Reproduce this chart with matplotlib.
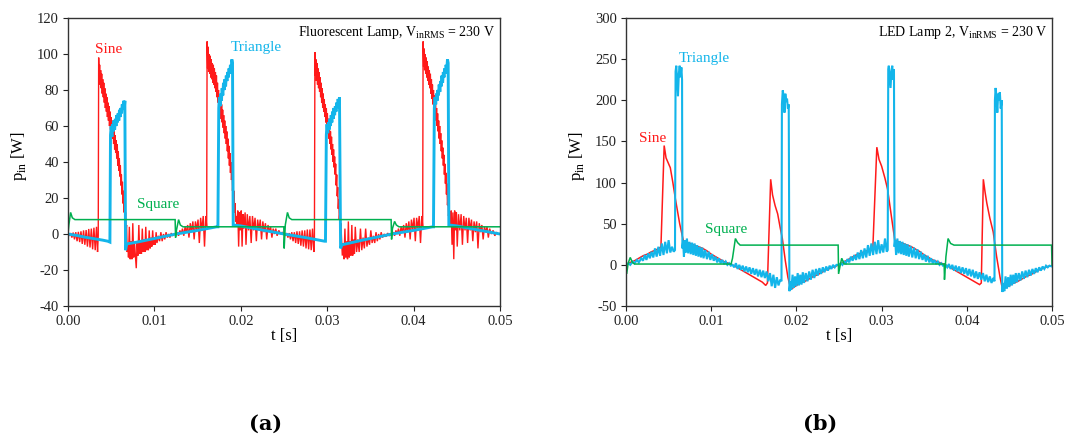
import numpy as np
import matplotlib
matplotlib.use("Agg")
import matplotlib.pyplot as plt

# ---------------- data (t in ms, p in W) ----------------
# Panel (a): Fluorescent lamp
sine_a = [
    (0, 0), (0.15, -1), (0.3, 0.5), (0.45, -2), (0.6, 0.8), (0.75, -3), (0.9, 1), (1.05, -4), (1.2, 1.2),
    (1.35, -4.5), (1.5, 1.5), (1.65, -5.5), (1.8, 2), (1.95, -6), (2.1, 2.2), (2.25, -7), (2.4, 2.8),
    (2.55, -7.5), (2.7, 3), (2.85, -8.5), (3.0, 3.5), (3.15, -9), (3.3, 4), (3.42, -10), (3.5, -1),
    (3.55, 98), (3.6, 86), (3.66, 94), (3.72, 83), (3.78, 91), (3.84, 81), (3.9, 89), (3.96, 78),
    (4.02, 86), (4.08, 76), (4.14, 84), (4.2, 73), (4.26, 81), (4.32, 70), (4.38, 78), (4.44, 68),
    (4.5, 76), (4.56, 65), (4.62, 73), (4.68, 63), (4.74, 71), (4.8, 60), (4.86, 68), (4.92, 58),
    (4.98, 65), (5.04, 55), (5.1, 63), (5.16, 53), (5.22, 60), (5.28, 50), (5.34, 58), (5.4, 47),
    (5.46, 55), (5.52, 45), (5.58, 52), (5.64, 42), (5.7, 50), (5.76, 38), (5.82, 46), (5.88, 35),
    (5.94, 42), (6.0, 32), (6.06, 38), (6.12, 27), (6.18, 33), (6.24, 22), (6.3, 29), (6.36, 17),
    (6.42, 24), (6.48, 12), (6.54, 18), (6.6, 7), (6.66, 12), (6.72, 2), (6.78, 5), (6.85, -10),
    (6.95, -6), (7.0, -13), (7.1, 4), (7.2, -14), (7.3, -4), (7.4, -14), (7.5, 6), (7.6, -13), (7.7, -5),
    (7.8, -12), (7.9, -19), (8.0, -4), (8.1, -12), (8.2, 5), (8.3, -11), (8.4, -4), (8.5, -11), (8.6, 3),
    (8.7, -10), (8.8, -3), (8.9, -10), (9.0, 4), (9.1, -9), (9.2, -3), (9.3, -9), (9.4, 2), (9.5, -8),
    (9.6, -2), (9.7, -7), (9.8, 2), (9.9, -6), (10.0, -2), (10.1, -6), (10.2, 1), (10.3, -5), (10.45, -1),
    (10.6, -4), (10.75, 1), (10.9, -4), (11.05, 0), (11.2, -3), (11.35, 1), (11.5, -2), (11.65, 0),
    (11.8, -2), (11.95, 0.5), (12.1, -1), (12.3, 0), (12.5, 0),
    (12.65, 1), (12.8, -1), (12.95, 2), (13.1, 0), (13.25, 3), (13.4, -1), (13.55, 4), (13.7, 1),
    (13.85, 5), (14.0, -2), (14.15, 6), (14.3, 1), (14.45, 7), (14.6, -3), (14.75, 7), (14.9, 2),
    (15.05, 8), (15.2, -5), (15.35, 9), (15.5, 2), (15.65, 10), (15.8, -7), (15.95, 10), (16.05, 4),
    (16.1, 107), (16.16, 92), (16.22, 104), (16.28, 90), (16.34, 100), (16.4, 89), (16.46, 99),
    (16.52, 87), (16.58, 97), (16.64, 86), (16.7, 95), (16.76, 84), (16.82, 94), (16.88, 83),
    (16.94, 92), (17.0, 81), (17.06, 90), (17.12, 79), (17.18, 88), (17.24, 76), (17.3, 84), (17.36, 73),
    (17.42, 80), (17.48, 70), (17.54, 77), (17.6, 67), (17.66, 75), (17.72, 64), (17.78, 72),
    (17.84, 62), (17.9, 69), (17.96, 59), (18.02, 66), (18.08, 56), (18.14, 63), (18.2, 53), (18.26, 60),
    (18.32, 50), (18.38, 57), (18.44, 46), (18.5, 53), (18.56, 42), (18.62, 49), (18.68, 38),
    (18.74, 45), (18.8, 34), (18.86, 40), (18.92, 30), (18.98, 36), (19.04, 24), (19.1, 30), (19.16, 18),
    (19.22, 24), (19.28, 12), (19.34, 17), (19.4, 7), (19.46, 10), (19.55, 4),
    (19.65, 13), (19.75, -7), (19.85, 12), (19.95, 2), (20.05, 13), (20.15, -7), (20.25, 11), (20.35, 3),
    (20.5, 12), (20.6, -6), (20.75, 11), (20.9, 2), (21.05, 10), (21.2, -5), (21.35, 10), (21.5, 2),
    (21.65, 9), (21.8, -4), (21.95, 8), (22.1, 2), (22.25, 8), (22.4, -3), (22.55, 7), (22.7, 1),
    (22.85, 6), (23.0, -3), (23.15, 5), (23.3, 1), (23.45, 4), (23.6, -2), (23.75, 3), (23.9, 0),
    (24.05, 3), (24.2, -1), (24.4, 2), (24.6, 0), (24.8, 1), (25.0, 0),
    (25.15, -1), (25.3, 0.5), (25.45, -2), (25.6, 0.5), (25.75, -3), (25.9, 1), (26.05, -4), (26.2, 1),
    (26.35, -5), (26.5, 1.5), (26.65, -5.5), (26.8, 1.5), (26.95, -6.5), (27.1, 2), (27.25, -7), (27.4, 2),
    (27.55, -8), (27.7, 2.5), (27.85, -8.5), (28.0, 2.5), (28.15, -9), (28.3, 3), (28.45, -10), (28.52, -3),
    (28.58, 101), (28.64, 88), (28.7, 97), (28.76, 85), (28.82, 95), (28.88, 83), (28.94, 92), (29.0, 81),
    (29.06, 90), (29.12, 79), (29.18, 87), (29.24, 76), (29.3, 84), (29.36, 73), (29.42, 81), (29.48, 70),
    (29.54, 78), (29.6, 68), (29.66, 75), (29.72, 65), (29.78, 72), (29.84, 62), (29.9, 70), (29.96, 60),
    (30.02, 67), (30.08, 57), (30.14, 64), (30.2, 53), (30.26, 60), (30.32, 50), (30.38, 57), (30.44, 47),
    (30.5, 54), (30.56, 44), (30.62, 50), (30.68, 40), (30.74, 47), (30.8, 37), (30.86, 43), (30.92, 33),
    (30.98, 39), (31.04, 27), (31.1, 33), (31.16, 21), (31.22, 26), (31.28, 14), (31.34, 19), (31.4, 8),
    (31.46, 12), (31.52, 3), (31.58, 6), (31.65, -2), (31.75, -12),
    (31.85, -5), (31.95, -14), (32.05, 3), (32.15, -13), (32.25, -4), (32.35, -14), (32.45, 7), (32.55, -13),
    (32.65, -4), (32.75, -12), (32.85, 5), (32.95, -12), (33.05, -3), (33.15, -11), (33.25, 4), (33.4, -10),
    (33.55, -3), (33.7, -10), (33.85, 3), (34.0, -9), (34.15, -2), (34.3, -8), (34.45, 3), (34.6, -7),
    (34.75, -2), (34.9, -6), (35.05, 2), (35.2, -5), (35.35, -1), (35.5, -5), (35.65, 1), (35.8, -4),
    (35.95, 0), (36.1, -3), (36.25, 1), (36.4, -2), (36.6, 0), (36.8, -1.5), (37.0, 0.5), (37.2, -1),
    (37.5, 0),
    (37.65, 1), (37.8, -1), (37.95, 2), (38.1, 0), (38.25, 3), (38.4, -1), (38.55, 4), (38.7, 1),
    (38.85, 5), (39.0, -2), (39.15, 6), (39.3, 1), (39.45, 7), (39.6, -3), (39.75, 8), (39.9, 2),
    (40.05, 9), (40.2, -4), (40.35, 9), (40.5, 3), (40.65, 10), (40.8, -5), (40.95, 10), (41.05, 4),
    (41.1, 107), (41.16, 93), (41.22, 103), (41.28, 91), (41.34, 100), (41.4, 89), (41.46, 98), (41.52, 87),
    (41.58, 96), (41.64, 85), (41.7, 93), (41.76, 83), (41.82, 91), (41.88, 81), (41.94, 89), (42.0, 78),
    (42.06, 86), (42.12, 75), (42.18, 83), (42.24, 72), (42.3, 80), (42.36, 69), (42.42, 77), (42.48, 66),
    (42.54, 74), (42.6, 63), (42.66, 70), (42.72, 60), (42.78, 67), (42.84, 57), (42.9, 63), (42.96, 53),
    (43.02, 60), (43.08, 50), (43.14, 56), (43.2, 46), (43.26, 52), (43.32, 42), (43.38, 48), (43.44, 38),
    (43.5, 44), (43.56, 33), (43.62, 39), (43.68, 28), (43.74, 34), (43.8, 22), (43.86, 28), (43.92, 16),
    (43.98, 21), (44.04, 10), (44.1, 14), (44.17, 5), (44.25, 6),
    (44.35, 13), (44.45, -6), (44.55, 12), (44.65, -14), (44.75, 13), (44.85, 2), (44.95, 12), (45.05, -7),
    (45.2, 11), (45.35, 2), (45.5, 11), (45.65, -6), (45.8, 10), (45.95, 2), (46.1, 9), (46.25, -5),
    (46.4, 9), (46.55, 2), (46.7, 8), (46.85, -4), (47.0, 7), (47.15, 1), (47.3, 7), (47.45, -8),
    (47.6, 6), (47.75, 1), (47.9, 5), (48.05, -3), (48.2, 4), (48.35, 1), (48.5, 4), (48.65, -2),
    (48.8, 3), (49.0, 0), (49.2, 2), (49.4, -1), (49.6, 1), (49.8, 0), (50.0, 0),
]

triangle_a = [
    (0, 0), (1, -0.8), (2, -1.8), (3, -2.6), (4, -3.4), (4.6, -4), (4.85, -4.5),
    (4.92, 55), (5.0, 60), (5.08, 54), (5.16, 61), (5.24, 57), (5.32, 63), (5.4, 58), (5.48, 64),
    (5.56, 60), (5.64, 66), (5.72, 62), (5.8, 67), (5.88, 63), (5.96, 69), (6.04, 65), (6.12, 70),
    (6.2, 67), (6.28, 72), (6.36, 69), (6.44, 74), (6.52, 70), (6.58, 74),
    (6.66, -9), (6.8, -5.5), (8, -4.5), (10, -2.5), (12.5, 0), (15, 2), (17.2, 4), (17.35, 4),
    (17.45, 70), (17.52, 76), (17.6, 71), (17.68, 78), (17.76, 74), (17.84, 81), (17.92, 77), (18.0, 84),
    (18.08, 80), (18.16, 86), (18.24, 82), (18.32, 88), (18.4, 85), (18.48, 90), (18.56, 87), (18.64, 92),
    (18.72, 89), (18.8, 94), (18.88, 91), (18.96, 97), (19.04, 95),
    (19.12, 5), (20, 4.5), (22.5, 2.2), (25, 0), (27.5, -2), (29.7, -4), (29.8, -4),
    (29.9, 55), (29.98, 61), (30.06, 56), (30.14, 62), (30.22, 58), (30.3, 64), (30.38, 60), (30.46, 66),
    (30.54, 62), (30.62, 68), (30.7, 64), (30.78, 70), (30.86, 66), (30.94, 71), (31.02, 68), (31.1, 73),
    (31.18, 70), (31.26, 75), (31.34, 72), (31.42, 76),
    (31.55, -8), (31.7, -6), (34, -3.5), (37.5, 0), (40, 2), (42.2, 4), (42.3, 4),
    (42.4, 70), (42.48, 76), (42.56, 72), (42.64, 78), (42.72, 74), (42.8, 80), (42.88, 77), (42.96, 83),
    (43.04, 79), (43.12, 85), (43.2, 82), (43.28, 88), (43.36, 84), (43.44, 90), (43.52, 87), (43.6, 92),
    (43.68, 89), (43.76, 94), (43.84, 91), (43.92, 97), (44.0, 95),
    (44.08, 5), (45, 4.5), (47.5, 2.2), (50, 0),
]

square_a = [
    (0, 0), (0.1, 5), (0.3, 12), (0.5, 9), (0.8, 8), (12.4, 8), (12.45, -2), (12.55, 2), (12.8, 8),
    (13.0, 5), (13.3, 4), (24.98, 4), (25.02, -8), (25.15, 5), (25.4, 12), (25.6, 9), (25.9, 8),
    (37.4, 8), (37.45, -3), (37.55, 3), (37.8, 7), (38.0, 5), (38.3, 4), (50, 4),
]

# Panel (b): LED lamp 2
sine_b = [
    (0, 0), (0.5, 3), (1.0, 5), (1.5, 8), (2.0, 11), (2.5, 13), (3.0, 16), (3.5, 18), (4.0, 21), (4.1, 22),
    (4.48, 145), (4.7, 130), (5.2, 118), (5.5, 100), (5.8, 80), (6.3, 50), (6.76, 28), (7.5, 26),
    (8.0, 24), (8.5, 22), (9.0, 20), (9.5, 17), (10.0, 13), (10.5, 10), (11.0, 7), (11.5, 4), (12.0, 2),
    (12.5, 0), (13.0, -3), (13.5, -6), (14.0, -9), (14.5, -12), (15.0, -15), (15.5, -18), (16.0, -21),
    (16.4, -25), (16.6, -22), (16.98, 104), (17.2, 85), (17.5, 72), (17.8, 62), (18.1, 45), (18.35, 32),
    (18.7, 5), (19.0, -15), (19.35, -30), (19.6, -28), (20.0, -25), (20.5, -22), (21.0, -20), (21.5, -17),
    (22.0, -14), (22.5, -12), (23.0, -9), (23.5, -6), (24.0, -4), (24.5, -2), (25.0, 0), (25.5, 3),
    (26.0, 6), (26.5, 9), (27.0, 12), (27.5, 14), (28.0, 16), (28.5, 18), (28.97, 20),
    (29.44, 143), (29.7, 128), (30.0, 120), (30.4, 105), (30.7, 92), (31.0, 70), (31.3, 48), (31.55, 30),
    (32.0, 28), (32.5, 26), (33.0, 24), (33.5, 22), (34.0, 19), (34.5, 16), (35.0, 12), (35.5, 9),
    (36.0, 6), (36.5, 4), (37.0, 2), (37.5, 0), (38.0, -3), (38.5, -6), (39.0, -9), (39.5, -12),
    (40.0, -15), (40.5, -18), (41.0, -21), (41.5, -24), (41.7, -22), (41.94, 104), (42.15, 88),
    (42.35, 75), (42.7, 57), (43.1, 40), (43.5, 10), (43.9, -15), (44.2, -30), (44.5, -28), (45.0, -25),
    (45.5, -22), (46.0, -20), (46.5, -17), (47.0, -14), (47.5, -12), (48.0, -9), (48.5, -6), (49.0, -4),
    (49.5, -2), (50.0, -1),
]

triangle_b = [
    (0, 0), (0.3, 2), (0.5, 0), (0.8, 4), (1.0, 2), (1.3, 6), (1.5, 3), (1.8, 8), (2.0, 5), (2.2, 12),
    (2.4, 6), (2.6, 14), (2.8, 8), (3.0, 16), (3.2, 9), (3.4, 20), (3.6, 10), (3.8, 22), (4.0, 11),
    (4.2, 26), (4.4, 12), (4.6, 28), (4.8, 14), (5.0, 30), (5.2, 15), (5.4, 22), (5.6, 16), (5.75, 18),
    (5.82, 235), (5.9, 242), (6.0, 225), (6.1, 205), (6.2, 232), (6.3, 242), (6.4, 228), (6.5, 240),
    (6.58, 225), (6.62, 20),
    (6.7, 28), (6.8, 10), (6.9, 30), (7.0, 15), (7.15, 32), (7.3, 14), (7.45, 28), (7.6, 13), (7.75, 27),
    (7.9, 12), (8.05, 26), (8.2, 11), (8.35, 24), (8.5, 10), (8.65, 22), (8.8, 9), (8.95, 21), (9.1, 8),
    (9.3, 18), (9.5, 7), (9.7, 16), (9.9, 6), (10.1, 13), (10.3, 5), (10.5, 10), (10.7, 3), (10.9, 8),
    (11.1, 2), (11.3, 6), (11.5, 1), (11.7, 4), (11.9, 0), (12.1, 2), (12.3, -1), (12.5, 0),
    (12.7, -3), (12.9, 2), (13.1, -5), (13.3, 0), (13.5, -6), (13.7, -1), (13.9, -8), (14.1, -2),
    (14.3, -9), (14.5, -3), (14.7, -11), (14.9, -4), (15.1, -12), (15.3, -5), (15.5, -14), (15.7, -6),
    (15.9, -15), (16.1, -7), (16.3, -16), (16.5, -8), (16.7, -20), (16.9, -10), (17.1, -26), (17.3, -12),
    (17.5, -28), (17.7, -15), (17.9, -25), (18.1, -18), (18.25, -20),
    (18.3, 195), (18.4, 212), (18.5, 205), (18.6, 185), (18.7, 208), (18.8, 198), (18.9, 202),
    (19.0, 190), (19.1, 195), (19.18, -32),
    (19.3, -20), (19.4, -30), (19.55, -12), (19.7, -28), (19.85, -14), (20.0, -26), (20.15, -10),
    (20.3, -25), (20.45, -12), (20.6, -24), (20.75, -9), (20.9, -22), (21.1, -10), (21.3, -20),
    (21.5, -8), (21.7, -18), (21.9, -6), (22.1, -16), (22.3, -5), (22.5, -13), (22.7, -4), (22.9, -11),
    (23.1, -3), (23.3, -9), (23.5, -2), (23.7, -7), (23.9, -1), (24.1, -5), (24.3, 0), (24.5, -3),
    (24.7, 0), (25.0, 0),
    (25.2, 2), (25.4, 0), (25.6, 4), (25.8, 2), (26.0, 7), (26.2, 3), (26.4, 10), (26.6, 5), (26.8, 12),
    (27.0, 6), (27.2, 15), (27.4, 7), (27.6, 18), (27.8, 8), (28.0, 20), (28.2, 9), (28.4, 24),
    (28.6, 11), (28.8, 26), (29.0, 12), (29.2, 28), (29.4, 13), (29.6, 30), (29.8, 14), (30.0, 25),
    (30.2, 15), (30.4, 32), (30.6, 16), (30.72, 18),
    (30.78, 238), (30.85, 242), (30.95, 228), (31.05, 215), (31.15, 235), (31.25, 242), (31.35, 225),
    (31.45, 238), (31.52, 22),
    (31.6, 30), (31.7, 12), (31.85, 32), (32.0, 14), (32.15, 29), (32.3, 13), (32.45, 28), (32.6, 12),
    (32.75, 26), (32.9, 11), (33.05, 25), (33.2, 10), (33.4, 23), (33.6, 9), (33.8, 21), (34.0, 8),
    (34.2, 19), (34.4, 7), (34.6, 16), (34.8, 6), (35.0, 13), (35.2, 4), (35.4, 11), (35.6, 3),
    (35.8, 8), (36.0, 2), (36.2, 6), (36.4, 1), (36.6, 4), (36.8, 0), (37.0, 2), (37.2, -1), (37.5, 0),
    (37.7, -3), (37.9, 1), (38.1, -5), (38.3, 0), (38.5, -7), (38.7, -1), (38.9, -8), (39.1, -2),
    (39.3, -10), (39.5, -3), (39.7, -11), (39.9, -4), (40.1, -13), (40.3, -5), (40.5, -14), (40.7, -6),
    (40.9, -16), (41.1, -8), (41.3, -17), (41.5, -9), (41.7, -18), (41.9, -10), (42.1, -20), (42.3, -12),
    (42.5, -21), (42.7, -14), (42.9, -22), (43.1, -16), (43.25, -20),
    (43.3, 200), (43.38, 215), (43.48, 205), (43.58, 185), (43.68, 208), (43.78, 200), (43.88, 210),
    (43.98, 190), (44.1, 200), (44.16, -33),
    (44.3, -22), (44.4, -32), (44.55, -14), (44.7, -29), (44.85, -15), (45.0, -27), (45.15, -12),
    (45.3, -25), (45.45, -12), (45.6, -23), (45.75, -10), (45.9, -21), (46.1, -10), (46.3, -19),
    (46.5, -8), (46.7, -17), (46.9, -7), (47.1, -15), (47.3, -6), (47.5, -13), (47.7, -5), (47.9, -11),
    (48.1, -4), (48.3, -9), (48.5, -3), (48.7, -7), (48.9, -2), (49.1, -5), (49.3, -1), (49.5, -3),
    (49.7, -1), (50.0, -2),
]

square_b = [
    (0, 0), (0.08, -11), (0.25, 2), (0.5, 9), (0.75, 3), (1.0, 1), (12.33, 1), (12.5, 8), (12.84, 32),
    (13.1, 27), (13.4, 24), (13.66, 24), (24.9, 24), (24.95, -11), (25.15, 0), (25.32, 8), (25.6, 1),
    (37.34, 1), (37.38, -18), (37.55, 10), (37.8, 32), (38.1, 26), (38.5, 24), (49.95, 24), (50.0, 0),
]

yticks_a = [-40, -20, 0, 20, 40, 60, 80, 100, 120]
yticks_b = [-50, 0, 50, 100, 150, 200, 250, 300]
xticks = [0.00, 0.01, 0.02, 0.03, 0.04, 0.05]

# ---------------- style ----------------
plt.rcParams['font.family'] = ['Liberation Serif', 'DejaVu Serif']
plt.rcParams['mathtext.fontset'] = 'custom'
plt.rcParams['mathtext.rm'] = 'Liberation Serif'
plt.rcParams['axes.unicode_minus'] = False

RED = '#ff1a1a'
BLUE = '#13b5ea'
GREEN = '#00b050'
W, H = 1068, 440

fig = plt.figure(figsize=(W / 100, H / 100), dpi=100)


def make_axes(x0, x1, y0, y1):
    return fig.add_axes([x0 / W, 1 - y1 / H, (x1 - x0) / W, (y1 - y0) / H])


def draw(ax, sine, tri, sq, yticks, ylim, lw_sine, lw_tri):
    for data, color, lw in ((sine, RED, lw_sine), (tri, BLUE, lw_tri), (sq, GREEN, 1.1)):
        arr = np.array(data, dtype=float)
        ax.plot(arr[:, 0] / 1000.0, arr[:, 1], color=color, lw=lw, solid_joinstyle='miter')
    ax.set_xlim(0, 0.05)
    ax.set_ylim(*ylim)
    ax.set_xticks(xticks)
    ax.set_xticklabels([f"{v:.2f}" for v in xticks])
    ax.set_yticks(yticks)
    ax.tick_params(direction='out', length=3.5, width=0.8, labelsize=10.5, colors='#222222', pad=3)
    for s in ax.spines.values():
        s.set_linewidth(1.0)
        s.set_color('#333333')


axa = make_axes(68, 500, 18, 306)
draw(axa, sine_a, triangle_a, square_a, yticks_a, (-40, 120), 1.0, 2.1)
axb = make_axes(626, 1052, 18, 306)
draw(axb, sine_b, triangle_b, square_b, yticks_b, (-50, 300), 1.1, 1.5)

# annotations
axa.text(0.988, 0.948, r"Fluorescent Lamp, V$_\mathregular{inRMS}$ = 230 V", transform=axa.transAxes,
         ha='right', va='center', fontsize=10)
axb.text(0.99, 0.948, r"LED Lamp 2, V$_\mathregular{inRMS}$ = 230 V", transform=axb.transAxes,
         ha='right', va='center', fontsize=10)

axa.text(0.095, 0.892, "Sine", color=RED, transform=axa.transAxes, ha='center', va='center', fontsize=11)
axa.text(0.435, 0.899, "Triangle", color=BLUE, transform=axa.transAxes, ha='center', va='center', fontsize=11)
axa.text(0.208, 0.354, "Square", color=GREEN, transform=axa.transAxes, ha='center', va='center', fontsize=11)

axb.text(0.062, 0.583, "Sine", color=RED, transform=axb.transAxes, ha='center', va='center', fontsize=11)
axb.text(0.185, 0.858, "Triangle", color=BLUE, transform=axb.transAxes, ha='center', va='center', fontsize=11)
axb.text(0.235, 0.264, "Square", color=GREEN, transform=axb.transAxes, ha='center', va='center', fontsize=11)

# axis labels
for xc in (284, 839):
    fig.text(xc / W, 1 - 336 / H, "t [s]", ha='center', va='center', fontsize=12)
for xc in (19, 577):
    fig.text(xc / W, 1 - 156 / H, r"p$_\mathregular{in}$ [W]", ha='center', va='center',
             rotation=90, fontsize=12)

# panel labels
fig.text(266 / W, 1 - 424 / H, "(a)", ha='center', va='center', fontsize=15, fontweight='bold',
         family=['DejaVu Serif'])
fig.text(820 / W, 1 - 424 / H, "(b)", ha='center', va='center', fontsize=15, fontweight='bold',
         family=['DejaVu Serif'])

fig.savefig("out.png", dpi=100)
